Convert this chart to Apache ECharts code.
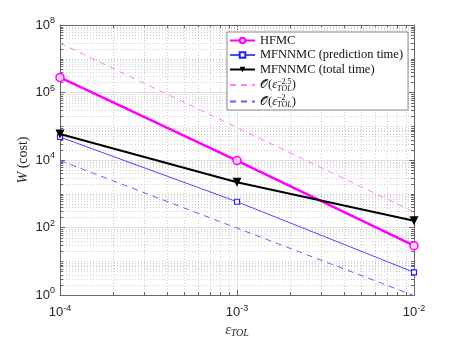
<!DOCTYPE html>
<html><head><meta charset="utf-8">
<script src="https://cdn.jsdelivr.net/npm/echarts@6/dist/echarts.min.js"></script>
<style>html,body{margin:0;padding:0;background:#fff}#c{width:457px;height:343px}</style>
</head><body><div id="c"></div>
<script>
const eps = [1e-4, 1e-3, 1e-2];
const hfmc = [2.8e6, 9.6e3, 29];
const mfPred = [4.8e4, 580, 4.7];
const mfTotal = [5.9e4, 2.2e3, 158];
const refEps = [1e-4, 1e-2];
const ref25 = [2.9e7, 290];
const ref2 = [9.6e3, 0.96];
const xTickExp = [-4, -3, -2];
const yTickExp = [0, 2, 4, 6, 8];

const zip = (xs, ys) => xs.map((x, i) => [x, ys[i]]);
const minor = [];
for (let e = xTickExp[0]; e < xTickExp[xTickExp.length-1]; e++) for (let m = 2; m <= 9; m++) minor.push([m * Math.pow(10, e), 10, 0]);
for (let e = yTickExp[0]; e < yTickExp[yTickExp.length-1]; e++) for (let m = 1; m <= 9; m++) {
  if (m === 1 && yTickExp.indexOf(e) >= 0) continue;
  minor.push([1e-3, m * Math.pow(10, e), 1]);
}
const AX = '#666';
function renderMinor(params, api) {
  const cs = params.coordSys;
  const st = {stroke: '#cdcdcd', lineWidth: 1, lineDash: [1, 2]};
  const tk = {stroke: AX, lineWidth: 1};
  if (api.value(2) === 0) {
    const x = Math.round(api.coord([api.value(0), 10])[0]) + 0.5;
    const b = cs.y + cs.height;
    return {type: 'group', children: [
      {type: 'line', shape: {x1: x, y1: cs.y, x2: x, y2: b}, style: st},
      {type: 'line', shape: {x1: x, y1: b, x2: x, y2: b - 3}, style: tk},
      {type: 'line', shape: {x1: x, y1: cs.y, x2: x, y2: cs.y + 3}, style: tk}]};
  }
  const y = Math.round(api.coord([1e-3, api.value(1)])[1]) + 0.5;
  const r = cs.x + cs.width;
  return {type: 'group', children: [
    {type: 'line', shape: {x1: cs.x, y1: y, x2: r, y2: y}, style: st},
    {type: 'line', shape: {x1: cs.x, y1: y, x2: cs.x + 3, y2: y}, style: tk},
    {type: 'line', shape: {x1: r, y1: y, x2: r - 3, y2: y}, style: tk}]};
}
const lblRich = {
  b: {fontSize: 13, fontFamily: 'Liberation Sans', color: '#262626'},
  s: {fontSize: 9, fontFamily: 'Liberation Sans', color: '#262626', padding: [0, 0, 8, 0]}
};
const expFmt = v => '{b|10}{s|' + Math.round(Math.log10(v)) + '}';
const SERIF = 'Liberation Serif';
const baseX = {
  type: 'log', min: 1e-4, max: 1e-2,
  axisLine: {lineStyle: {color: AX, width: 1}},
  axisTick: {inside: true, length: 5, lineStyle: {color: AX}},
  splitLine: {show: false}, axisLabel: {show: false}
};
const baseY = {
  type: 'log', min: 1, max: 1e8, interval: 2,
  axisLine: {lineStyle: {color: AX, width: 1}},
  axisTick: {inside: true, length: 5, lineStyle: {color: AX}},
  splitLine: {show: false}, axisLabel: {show: false}
};
const hideSym = {color: 'rgba(0,0,0,0)', borderColor: 'rgba(0,0,0,0)', borderWidth: 0};
const option = {
  backgroundColor: '#fff',
  animation: false,
  grid: {left: 60, right: 43, top: 25, bottom: 43},
  xAxis: [
    Object.assign({}, baseX, {
      position: 'bottom',
      splitLine: {show: true, lineStyle: {color: '#e2e2e2'}},
      axisLabel: {show: true, margin: 9, formatter: expFmt, rich: lblRich},
      name: '{it|ε}{sub|TOL}', nameLocation: 'middle', nameGap: 27, nameMoveOverlap: false,
      nameTextStyle: {rich: {
        it: {fontFamily: SERIF, fontStyle: 'italic', fontSize: 14, color: '#262626'},
        sub: {fontFamily: SERIF, fontStyle: 'italic', fontSize: 10, color: '#262626', padding: [6, 0, 0, 0]}}}
    }),
    Object.assign({}, baseX, {position: 'top'})
  ],
  yAxis: [
    Object.assign({}, baseY, {
      position: 'left',
      splitLine: {show: true, lineStyle: {color: '#e2e2e2'}},
      axisLabel: {show: true, margin: 5, formatter: expFmt, rich: lblRich},
      name: '{it|W} (cost)', nameLocation: 'middle', nameGap: 30, nameMoveOverlap: false,
      nameTextStyle: {rich: {
        it: {fontFamily: SERIF, fontStyle: 'italic', fontSize: 14, color: '#262626'}},
        fontFamily: SERIF, fontSize: 14, color: '#262626'}
    }),
    Object.assign({}, baseY, {position: 'right'})
  ],
  legend: {
    orient: 'vertical', left: 227, top: 32,
    backgroundColor: '#fff', borderColor: '#888', borderWidth: 1,
    padding: [2, 5, 1, 2], itemGap: 1.5, itemWidth: 25, itemHeight: 7,
    data: ['HFMC', 'MFNNMC (prediction time)', 'MFNNMC (total time)',
      {name: 'O25', itemStyle: hideSym}, {name: 'O2', itemStyle: hideSym}],
    formatter: function (n) {
      if (n === 'O25') return '{cal|𝒪}(' + '{it|ε}{sup|−2.5}{sub|TOL})';
      if (n === 'O2') return '{cal|𝒪}(' + '{it|ε}{sup|−2}{sub|TOL})';
      return n;
    },
    textStyle: {
      fontFamily: SERIF, fontSize: 12.5, color: '#111', lineHeight: 13,
      rich: {
        cal: {fontFamily: 'DejaVu Sans', fontSize: 12, lineHeight: 13},
        it: {fontFamily: SERIF, fontStyle: 'italic', fontSize: 12.5, lineHeight: 13},
        sup: {fontFamily: SERIF, fontSize: 8, width: 0.01, lineHeight: 13, padding: [0, 0, 7, 0]},
        sub: {fontFamily: SERIF, fontStyle: 'italic', fontSize: 8, lineHeight: 13, padding: [7, 0, 0, 0]}
      }
    }
  },
  series: [
    {type: 'custom', name: 'minor', z: 1, silent: true, data: minor, renderItem: renderMinor,
     encode: {x: 0, y: 1}, xAxisIndex: 0, yAxisIndex: 0},
    {type: 'line', name: 'O25', data: zip(refEps, ref25), symbol: 'none', z: 3,
     lineStyle: {color: '#ff7fff', width: 1, type: [6, 5]}, itemStyle: {color: '#ff7fff'}},
    {type: 'line', name: 'O2', data: zip(refEps, ref2), symbol: 'none', z: 3,
     lineStyle: {color: '#5f5fff', width: 1, type: [6, 5]}, itemStyle: {color: '#5f5fff'}},
    {type: 'line', name: 'MFNNMC (prediction time)', data: zip(eps, mfPred), z: 4,
     symbol: 'rect', symbolSize: 5, lineStyle: {color: '#4a4aff', width: 1},
     itemStyle: {color: '#fff', borderColor: '#2020ff', borderWidth: 1.2}},
    {type: 'line', name: 'HFMC', data: zip(eps, hfmc), z: 5,
     symbol: 'circle', symbolSize: 8, lineStyle: {color: '#ff00ff', width: 2.5},
     itemStyle: {color: '#ffd0ff', borderColor: '#ff00ff', borderWidth: 1.5}},
    {type: 'line', name: 'MFNNMC (total time)', data: zip(eps, mfTotal), z: 6,
     symbol: 'triangle', symbolRotate: 180, symbolSize: 9, lineStyle: {color: '#000', width: 2},
     itemStyle: {color: '#000'}}
  ]
};
const chart = echarts.init(document.getElementById('c'));
chart.setOption(option);
</script></body></html>
